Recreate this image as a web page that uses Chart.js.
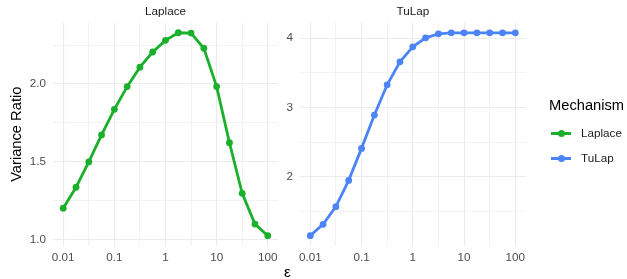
<!DOCTYPE html>
<html>
<head>
  <meta charset="UTF-8">
  <title>Variance Ratio by Mechanism</title>
  <script src="https://cdn.jsdelivr.net/npm/chart.js"></script>
  <style>
    body { margin: 0; background: #fff; font-family: "Liberation Sans", Arial, sans-serif; }
    #wrap { position: relative; width: 627px; height: 279px; overflow: hidden; }
    #wrap canvas { position: absolute; left: 0; top: 0; }
    .txt { position: absolute; white-space: nowrap; line-height: 1; }
    .key { position: absolute; width: 20px; height: 3px; }
    .dot { position: absolute; left: 6.5px; top: -2px; width: 7px; height: 7px; border-radius: 50%; }
  </style>
</head>
<body>
  <div id="wrap">
    <canvas id="laplaceChart" width="627" height="279"></canvas>
    <canvas id="tulapChart" width="627" height="279"></canvas>

    <!-- shared x title + legend -->
    <div class="txt" style="left:284px; top:264px; font-size:15px; color:#000;">ε</div>
    <div class="txt" style="left:549px; top:98px; font-size:14.7px; color:#000;">Mechanism</div>
    <div class="key" style="left:551px; top:132px; background:#1BB02C;"><div class="dot" style="background:#1BB02C;"></div></div>
    <div class="txt" style="left:581px; top:127px; font-size:11.7px; color:#1a1a1a;">Laplace</div>
    <div class="key" style="left:551px; top:157px; background:#4C84F7;"><div class="dot" style="background:#4C84F7;"></div></div>
    <div class="txt" style="left:581px; top:152px; font-size:11.7px; color:#1a1a1a;">TuLap</div>
  </div>

  <script>
    // epsilon values (4 per decade)
    const epsilon = [0.01, 0.0178, 0.0316, 0.0562, 0.1, 0.178, 0.316, 0.562, 1,
                     1.78, 3.16, 5.62, 10, 17.8, 31.6, 56.2, 100];

    const laplaceRatio = [1.20, 1.335, 1.498, 1.672, 1.837, 1.983, 2.108, 2.206, 2.281,
                          2.330, 2.328, 2.230, 1.983, 1.622, 1.296, 1.098, 1.023];
    const tulapRatio = [1.155, 1.318, 1.573, 1.951, 2.412, 2.892, 3.328, 3.659, 3.875,
                        4.004, 4.062, 4.076, 4.077, 4.077, 4.077, 4.077, 4.077];

    // gridline positions and their labels
    const xTicks = [0.01, 0.0316, 0.1, 0.316, 1, 3.16, 10, 31.6, 100];
    const xTickLabels = ['0.01', '', '0.1', '', '1', '', '10', '', '100'];
    const laplaceYTicks = [1.0, 1.25, 1.5, 1.75, 2.0, 2.25];
    const laplaceYLabels = ['1.0', '', '1.5', '', '2.0', ''];
    const tulapYTicks = [1.5, 2, 2.5, 3, 3.5, 4];
    const tulapYLabels = ['', '2', '', '3', '', '4'];

    const FONT = '"Liberation Sans", Arial, sans-serif';
    const GRID = '#EBEBEB';

    function gridWidth(labels) {
      return ctx => (labels[ctx.index] === '' ? 0.6 : 1.1);
    }

    function makeChart(id, name, values, color, yTicks, yLabels, yMin, yMax, pad, yWidth, yTitle) {
      const ctx = document.getElementById(id).getContext('2d');
      return new Chart(ctx, {
        type: 'line',
        data: {
          datasets: [{
            label: name,
            data: epsilon.map((e, i) => ({ x: e, y: values[i] })),
            borderColor: color,
            backgroundColor: color,
            borderWidth: 2.8,
            pointRadius: 3.4,
            pointBorderWidth: 0,
            pointHoverRadius: 3.4,
            tension: 0,
            fill: false
          }]
        },
        options: {
          responsive: false,
          animation: false,
          layout: { padding: pad },
          plugins: {
            legend: { display: false },
            tooltip: { enabled: false },
            title: {
              display: true,
              text: name,
              fullSize: false,
              color: '#1a1a1a',
              font: { family: FONT, size: 11.7, weight: 'normal', lineHeight: 1.2 },
              padding: { top: 4.6, bottom: 4 }
            }
          },
          scales: {
            x: {
              type: 'logarithmic',
              bounds: 'data',
              min: Math.pow(10, -2.2),
              max: Math.pow(10, 2.2),
              afterBuildTicks: s => { s.ticks = xTicks.map(v => ({ value: v })); },
              afterFit: s => { s.height = 33.2; },
              border: { display: false },
              grid: { color: GRID, lineWidth: gridWidth(xTickLabels), drawTicks: false },
              ticks: {
                autoSkip: false, maxRotation: 0, padding: 5,
                color: '#4D4D4D',
                font: { family: FONT, size: 11.7 },
                callback: (v, i) => xTickLabels[i]
              }
            },
            y: {
              type: 'linear',
              min: yMin,
              max: yMax,
              afterBuildTicks: s => { s.ticks = yTicks.map(v => ({ value: v })); },
              afterFit: s => { s.width = yWidth; },
              border: { display: false },
              grid: { color: GRID, lineWidth: gridWidth(yLabels), drawTicks: false },
              title: {
                display: !!yTitle,
                text: yTitle || '',
                color: '#000',
                font: { family: FONT, size: 14.7 },
                padding: { top: 8, bottom: 0 }
              },
              ticks: {
                padding: 7,
                color: '#4D4D4D',
                font: { family: FONT, size: 11.7 },
                callback: (v, i) => yLabels[i]
              }
            }
          }
        }
      });
    }

    makeChart('laplaceChart', 'Laplace', laplaceRatio, '#1BB02C',
      laplaceYTicks, laplaceYLabels, 0.958, 2.395,
      { left: 0, right: 349, top: 0, bottom: 0 }, 53, 'Variance Ratio');

    makeChart('tulapChart', 'TuLap', tulapRatio, '#4C84F7',
      tulapYTicks, tulapYLabels, 1.009, 4.223,
      { left: 270, right: 101.4, top: 0, bottom: 0 }, 30, null);
  </script>
</body>
</html>
